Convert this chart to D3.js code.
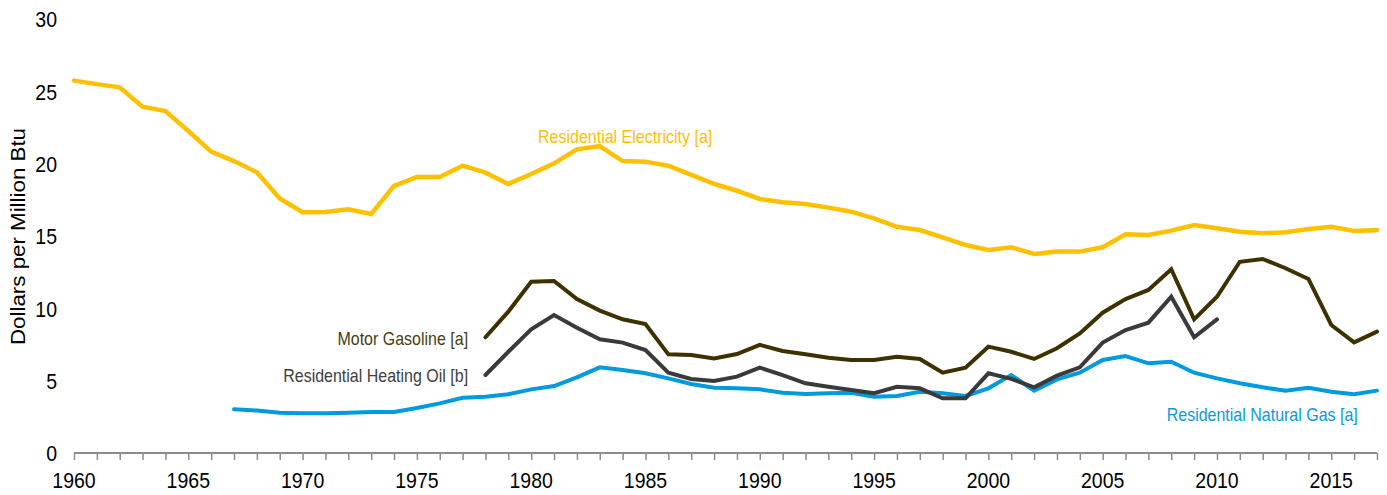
<!DOCTYPE html>
<html>
<head>
<meta charset="utf-8">
<script src="https://cdn.jsdelivr.net/npm/d3@7"></script>
<style>
html,body{margin:0;padding:0;background:#fff;}
svg{display:block;font-family:"Liberation Sans",Arial,sans-serif;}
</style>
</head>
<body>
<svg id="chart" width="1387" height="495"></svg>
<script>
const electricityYears = d3.range(1960, 2018);
const electricity = [25.74,25.5,25.28,23.94,23.64,22.26,20.83,20.18,19.40,17.6,
  16.64,16.66,16.85,16.52,18.46,19.08,19.08,19.86,19.38,18.6,
  19.29,20.02,20.99,21.22,20.18,20.14,19.86,19.22,18.6,18.13,
  17.56,17.33,17.21,16.96,16.68,16.22,15.64,15.41,14.9,14.38,
  14.03,14.22,13.76,13.92,13.92,14.22,15.12,15.07,15.37,15.76,
  15.53,15.3,15.19,15.26,15.48,15.64,15.35,15.41];

const gasolineYears = d3.range(1978, 2018);
const gasoline = [8.0,9.77,11.84,11.89,10.64,9.84,9.24,8.92,6.82,6.77,
  6.54,6.84,7.47,7.05,6.82,6.59,6.43,6.43,6.66,6.5,
  5.55,5.9,7.35,7.0,6.5,7.24,8.27,9.7,10.64,11.27,
  12.7,9.24,10.8,13.22,13.41,12.77,12.03,8.85,7.65,8.39];

const heatingOilYears = d3.range(1978, 2011);
const heatingOil = [5.39,7.0,8.55,9.54,8.66,7.86,7.63,7.12,5.55,5.12,
  4.98,5.28,5.9,5.39,4.82,4.58,4.35,4.13,4.58,4.47,
  3.78,3.78,5.51,5.12,4.54,5.35,5.92,7.63,8.5,9.01,
  10.8,8.0,9.24];

const naturalGasYears = d3.range(1967, 2018);
const naturalGas = [3.02,2.93,2.79,2.74,2.74,2.79,2.83,2.83,3.11,3.43,
  3.82,3.89,4.06,4.4,4.63,5.23,5.92,5.74,5.51,5.16,
  4.77,4.51,4.47,4.4,4.17,4.08,4.13,4.17,3.89,3.94,
  4.24,4.13,3.94,4.47,5.39,4.31,5.09,5.55,6.43,6.7,
  6.2,6.31,5.55,5.16,4.82,4.54,4.31,4.51,4.24,4.06,4.31];

const xTickLabels = [1960,1965,1970,1975,1980,1985,1990,1995,2000,2005,2010,2015];
const yTickLabels = [0,5,10,15,20,25,30];
const yTitle = "Dollars per Million Btu";

const seriesDefs = [
  {name:"Residential Natural Gas [a]", years:naturalGasYears, values:naturalGas, color:"#009ADE", width:4},
  {name:"Residential Heating Oil [b]", years:heatingOilYears, values:heatingOil, color:"#3A3A3A", width:4},
  {name:"Motor Gasoline [a]", years:gasolineYears, values:gasoline, color:"#3D3100", width:4},
  {name:"Residential Electricity [a]", years:electricityYears, values:electricity, color:"#FFC000", width:4.5}
];

const labelDefs = [
  {text:"Residential Electricity [a]", color:"#FFC000", year:1980.3, value:21.45, anchor:"start"},
  {text:"Motor Gasoline [a]", color:"#4A3E12", year:1977.24, value:7.47, anchor:"end"},
  {text:"Residential Heating Oil [b]", color:"#404040", year:1977.24, value:4.92, anchor:"end"},
  {text:"Residential Natural Gas [a]", color:"#0A9BDC", year:2007.8, value:2.21, anchor:"start"}
];

const svg = d3.select("#chart");
const x = d3.scaleLinear().domain([1960, 2017]).range([74, 1377]);
const y = d3.scaleLinear().domain([0, 30]).range([453, 19]);
const SY = 1.15;

// x axis
const xAxis = d3.axisBottom(x)
  .tickValues(d3.range(1960, 2018))
  .tickSize(7)
  .tickFormat("");
const gx = svg.append("g").attr("transform", "translate(0,453)").call(xAxis);
gx.select(".domain").attr("stroke", "#8c8c8c").attr("stroke-width", 2).attr("d", `M${x(1960)},0H${x(2017)}`);
gx.selectAll(".tick line").attr("stroke", "#8c8c8c").attr("stroke-width", 1.5);

svg.append("g").selectAll("text").data(xTickLabels).join("text")
  .attr("transform", d => `translate(${x(d)},488) scale(1,${SY})`)
  .attr("text-anchor", "middle")
  .attr("font-size", 19.5)
  .attr("fill", "#000")
  .text(d => d);

// y tick labels (no axis line)
svg.append("g").selectAll("text").data(yTickLabels).join("text")
  .attr("transform", d => `translate(57,${y(d) + 8.3}) scale(1,${SY})`)
  .attr("text-anchor", "end")
  .attr("font-size", 19.5)
  .attr("fill", "#000")
  .text(d => d);

// y title
svg.append("text")
  .attr("transform", `translate(25,237) rotate(-90)`)
  .attr("x", -108)
  .attr("font-size", 19.5)
  .attr("textLength", 217)
  .attr("lengthAdjust", "spacingAndGlyphs")
  .attr("fill", "#000")
  .text(yTitle);

// lines
const line = d3.line().x(d => x(d[0])).y(d => y(d[1]));
svg.append("g").selectAll("path").data(seriesDefs).join("path")
  .attr("d", s => line(s.years.map((yr, i) => [yr, s.values[i]])))
  .attr("fill", "none")
  .attr("stroke", s => s.color)
  .attr("stroke-width", s => s.width)
  .attr("stroke-linecap", "round")
  .attr("stroke-linejoin", "miter");

// labels
svg.append("g").selectAll("text").data(labelDefs).join("text")
  .attr("transform", d => `translate(${x(d.year)},${y(d.value)}) scale(1,${SY})`)
  .attr("text-anchor", d => d.anchor)
  .attr("font-size", 16)
  .attr("fill", d => d.color)
  .text(d => d.text);
</script>
</body>
</html>
